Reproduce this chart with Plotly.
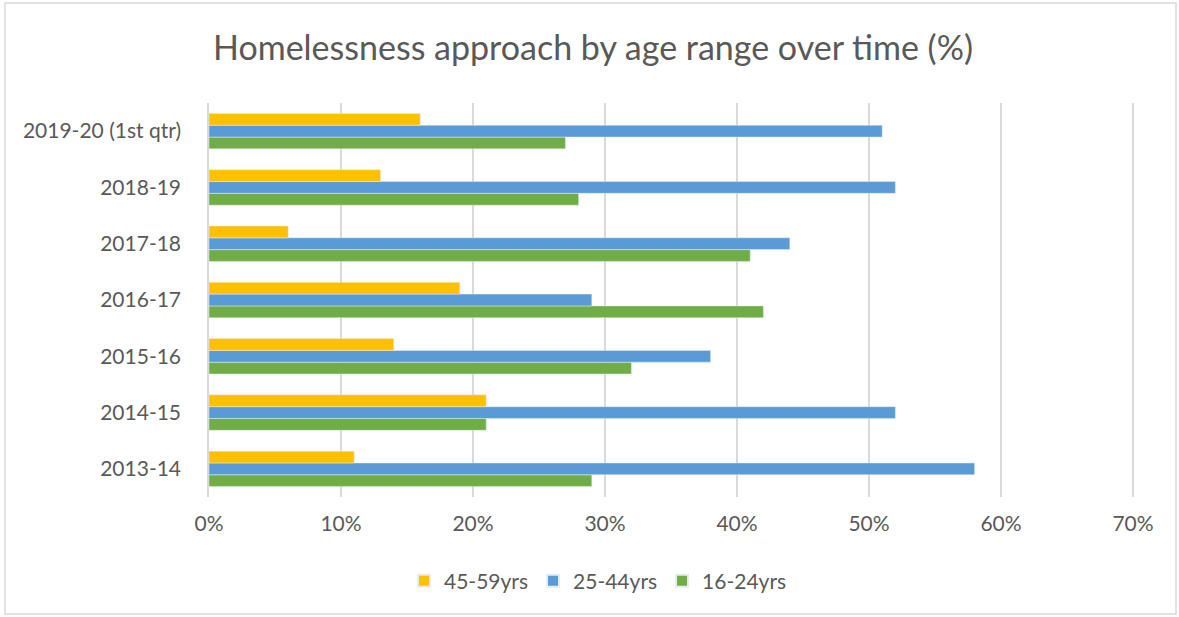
import plotly.graph_objects as go

categories = ["2013-14", "2014-15", "2015-16", "2016-17", "2017-18", "2018-19", "2019-20 (1st qtr)"]
age_45_59 = [11, 21, 14, 19, 6, 13, 16]
age_25_44 = [58, 52, 38, 29, 44, 52, 51]
age_16_24 = [29, 21, 32, 42, 41, 28, 27]
x_ticks = [0, 10, 20, 30, 40, 50, 60, 70]
x_tick_labels = ["0%", "10%", "20%", "30%", "40%", "50%", "60%", "70%"]

fig = go.Figure()
fig.add_trace(go.Bar(y=categories, x=age_16_24, name="16-24yrs", orientation="h",
                     marker=dict(color="#70AD47")))
fig.add_trace(go.Bar(y=categories, x=age_25_44, name="25-44yrs", orientation="h",
                     marker=dict(color="#5B9BD5")))
fig.add_trace(go.Bar(y=categories, x=age_45_59, name="45-59yrs", orientation="h",
                     marker=dict(color="#FFC000")))

W, H = 1179, 617
ml, mr, mt, mb = 209, 44, 103, 120
pw, ph = W - ml - mr, H - mt - mb

def px_x(p):
    return (p - ml) / pw

def px_y(p):
    return (H - mb - p) / ph

fig.update_layout(
    width=W, height=H,
    margin=dict(l=ml, r=mr, t=mt, b=mb),
    paper_bgcolor="white", plot_bgcolor="white",
    barmode="group", bargap=0.37, bargroupgap=0,
    font=dict(family="Lato", color="#595959"),
    title=dict(text="Homelessness approach by age range over time (%)",
               x=593 / W, xanchor="center", xref="container", y=1 - 48 / H, yanchor="middle",
               font=dict(size=34, color="#595959")),
    xaxis=dict(range=[0, 70.15], tickvals=x_ticks, ticktext=x_tick_labels,
               showgrid=True, gridcolor="#D9D9D9", gridwidth=1.5,
               zeroline=False, showline=False,
               tickfont=dict(size=21, color="#595959"), ticks="", ticklabelstandoff=12),
    yaxis=dict(categoryorder="array", categoryarray=categories,
               showline=True, linecolor="#D9D9D9", linewidth=1.5,
               showgrid=False, ticks="", ticklabelstandoff=22,
               tickfont=dict(size=21, color="#595959")),
    legend=dict(orientation="h", traceorder="reversed", x=px_x(598), xanchor="center",
                y=px_y(581), yanchor="middle", font=dict(size=21, color="#595959"),
                itemwidth=30, itemsizing="constant"),
    showlegend=True,
    shapes=[dict(type="rect", xref="paper", yref="paper",
                 x0=px_x(5), x1=px_x(1176), y0=px_y(614), y1=px_y(3),
                 line=dict(color="#D9D9D9", width=1.5), fillcolor="rgba(0,0,0,0)",
                 layer="below")],
)

fig.write_html("out.html")
